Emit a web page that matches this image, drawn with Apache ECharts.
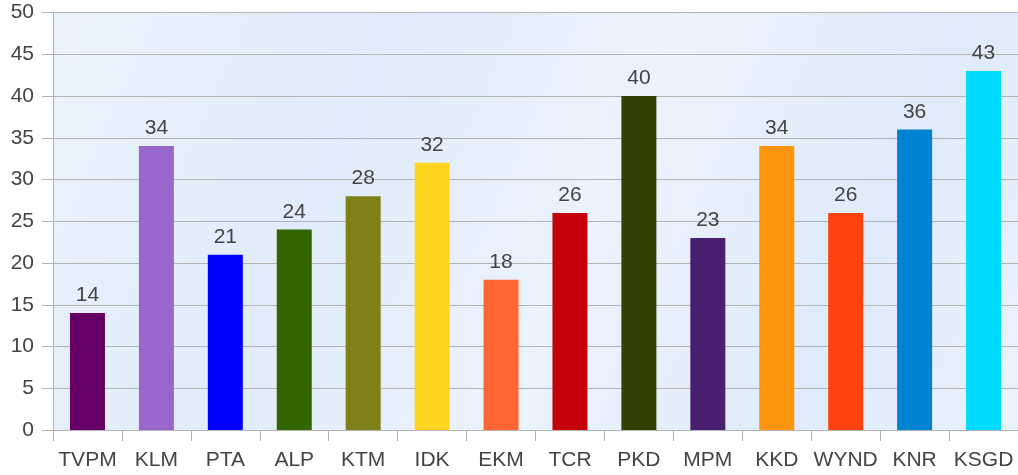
<!DOCTYPE html>
<html><head><meta charset="utf-8">
<script src="https://cdn.jsdelivr.net/npm/echarts@6/dist/echarts.min.js"></script>
<style>html,body{margin:0;padding:0;background:#fff}#c{width:1018px;height:475px}</style>
</head><body><div id="c"></div>
<script>
const categories = ['TVPM','KLM','PTA','ALP','KTM','IDK','EKM','TCR','PKD','MPM','KKD','WYND','KNR','KSGD'];
const values = [14,34,21,24,28,32,18,26,40,23,34,26,36,43];
const colors = ['#660066','#9966cc','#0000ff','#336600','#808019','#ffd320','#ff6633','#c5000b','#314004','#4b1f6f','#ff950e','#ff420e','#0084d1','#00dcff'];
const yTicks = {min:0, max:50, interval:5};

const chart = echarts.init(document.getElementById('c'), null, {renderer:'canvas'});
const textStyle = {fontFamily:'Liberation Sans, Arial, sans-serif', fontSize:21, color:'#444444'};
chart.setOption({
  animation:false,
  grid:{left:53, right:0, top:12.5, bottom:45, show:true, borderWidth:0,
    backgroundColor:new echarts.graphic.LinearGradient(0,0,1,1,[
      {offset:0,color:'#eaf3fd'},{offset:0.3,color:'#e0ecfb'},{offset:0.55,color:'#ebf3fd'},{offset:0.8,color:'#dfebfa'},{offset:1,color:'#eaf2fd'}])},
  xAxis:{type:'category', data:categories,
    axisLine:{show:true, lineStyle:{color:'#b3b3b3', width:1}},
    axisTick:{show:true, length:11, lineStyle:{color:'#b3b3b3'}},
    axisLabel:Object.assign({margin:20, interval:0}, textStyle)},
  yAxis:{type:'value', min:yTicks.min, max:yTicks.max, interval:yTicks.interval,
    axisLine:{show:true, lineStyle:{color:'#b3b3b3', width:1}},
    axisTick:{show:true, length:11, lineStyle:{color:'#b3b3b3'}},
    axisLabel:Object.assign({margin:19}, textStyle),
    splitLine:{show:true, lineStyle:{color:'#b3b3b3', width:1}}},
  series:[{type:'bar', barWidth:35,
    data:values.map((v,i)=>({value:v, itemStyle:{color:colors[i]}})),
    label:Object.assign({show:true, position:'top', distance:7}, textStyle)}]
});
</script></body></html>
